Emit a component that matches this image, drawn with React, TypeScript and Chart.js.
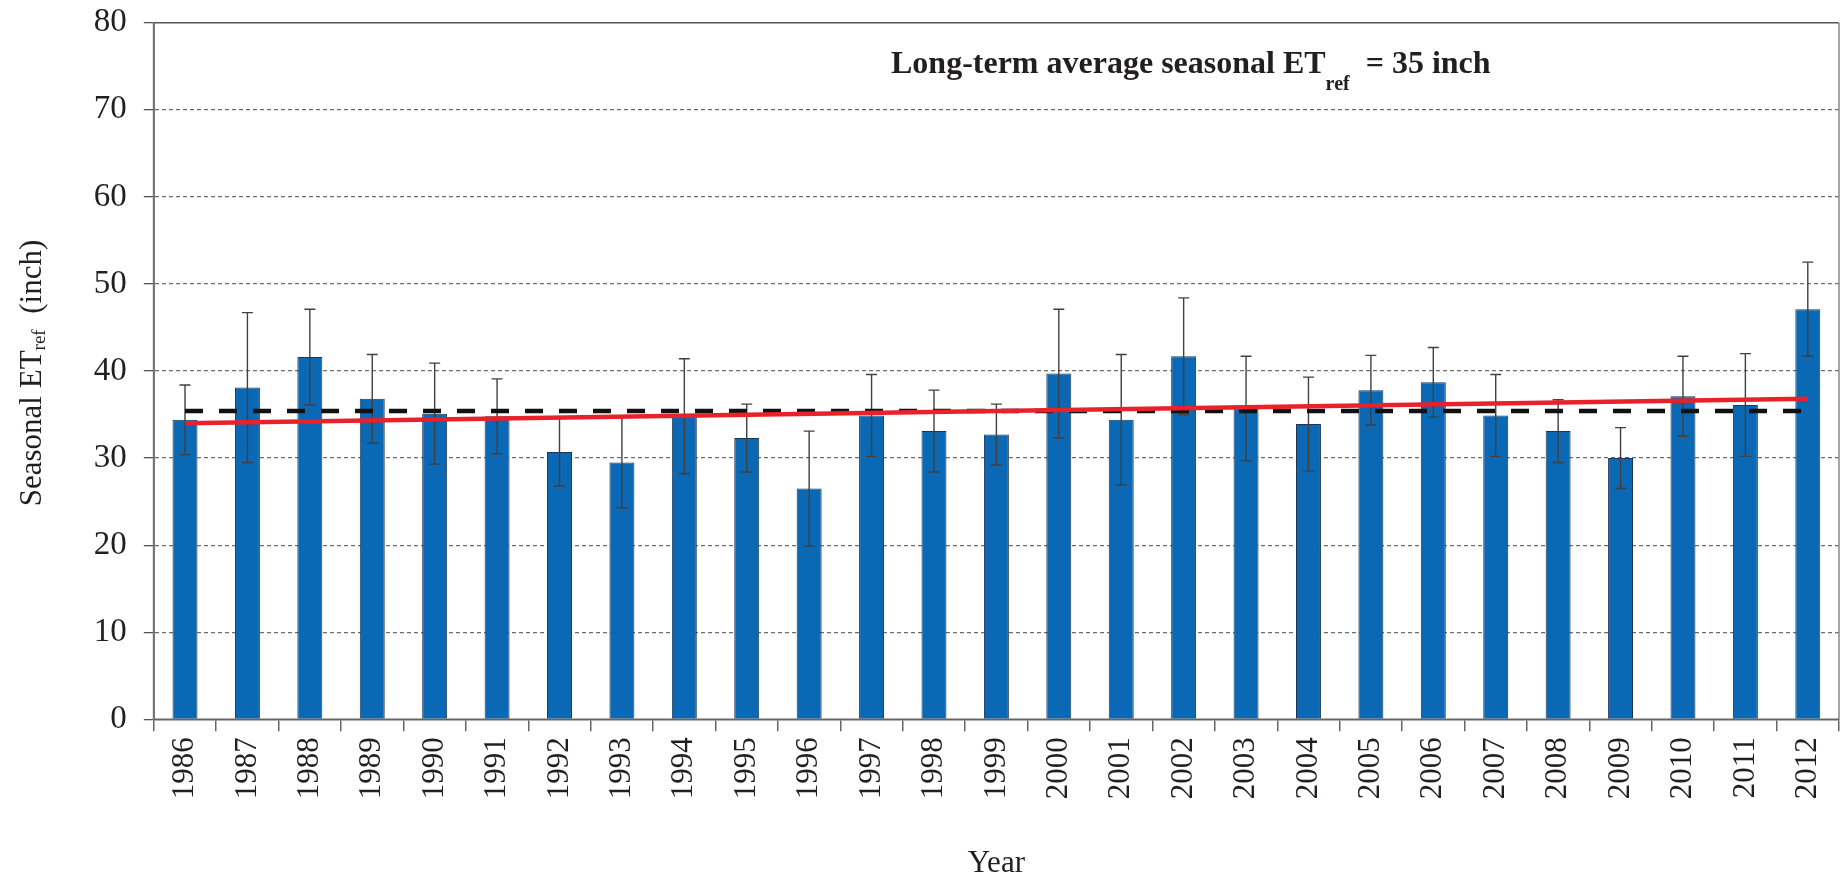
import React, { useEffect, useRef } from "react";
import { Chart, registerables } from "chart.js";

Chart.register(...registerables);

const years = [
  "1986", "1987", "1988", "1989", "1990", "1991", "1992", "1993", "1994",
  "1995", "1996", "1997", "1998", "1999", "2000", "2001", "2002", "2003",
  "2004", "2005", "2006", "2007", "2008", "2009", "2010", "2011", "2012",
];

const seasonalETref = [
  34.4, 38.1, 41.6, 36.8, 35.1, 34.8, 30.7, 29.5, 34.8,
  32.3, 26.5, 34.9, 33.1, 32.7, 39.7, 34.4, 41.7, 35.7,
  33.9, 37.8, 38.7, 34.9, 33.1, 30.0, 37.1, 36.1, 47.1,
];

const seasonalETrefError = [
  4.0, 8.6, 5.5, 5.1, 5.8, 4.3, 3.9, 5.2, 6.6,
  3.9, 6.6, 4.7, 4.7, 3.5, 7.4, 7.5, 6.7, 6.0,
  5.4, 4.0, 4.0, 4.7, 3.6, 3.5, 4.6, 5.9, 5.4,
];

const longTermAverage = [35.4, 35.4]; // first and last year
const trendEnds = [34.0, 36.8]; // trend line at first and last year

const yTicks = [0, 10, 20, 30, 40, 50, 60, 70, 80];

const SERIF = "'Liberation Serif', 'Times New Roman', serif";
const TEXT = "#231f20";

function endpointsSeries(ends: number[]) {
  return years.map((_, i) =>
    i === 0 ? ends[0] : i === years.length - 1 ? ends[1] : null
  );
}

const errorBarPlugin = {
  id: "errorBars",
  afterDatasetDraw(chart: any, args: any) {
    if (args.index !== 0) return;
    const meta = chart.getDatasetMeta(0);
    const y = chart.scales.y;
    const ctx = chart.ctx;
    ctx.save();
    ctx.strokeStyle = "#404040";
    ctx.lineWidth = 1.4;
    meta.data.forEach((bar: any, i: number) => {
      const x = bar.x;
      const top = y.getPixelForValue(seasonalETref[i] + seasonalETrefError[i]);
      const bot = y.getPixelForValue(seasonalETref[i] - seasonalETrefError[i]);
      ctx.beginPath();
      ctx.moveTo(x, top);
      ctx.lineTo(x, bot);
      ctx.moveTo(x - 5.5, top);
      ctx.lineTo(x + 5.5, top);
      ctx.moveTo(x - 5.5, bot);
      ctx.lineTo(x + 5.5, bot);
      ctx.stroke();
    });
    ctx.restore();
  },
};

type Part = { text: string; font: string; dy: number };

function drawParts(ctx: CanvasRenderingContext2D, parts: Part[], startX: number) {
  let x = startX;
  for (const p of parts) {
    ctx.font = p.font;
    ctx.fillText(p.text, x, p.dy);
    x += ctx.measureText(p.text).width;
  }
}

function partsWidth(ctx: CanvasRenderingContext2D, parts: Part[]) {
  let w = 0;
  for (const p of parts) {
    ctx.font = p.font;
    w += ctx.measureText(p.text).width;
  }
  return w;
}

const framePlugin = {
  id: "frameAndText",
  afterDraw(chart: any) {
    const { ctx, chartArea } = chart;
    const { left, right, top, bottom } = chartArea;
    ctx.save();
    ctx.setLineDash([]);
    // top frame
    ctx.strokeStyle = "#555";
    ctx.lineWidth = 1.5;
    ctx.beginPath();
    ctx.moveTo(left, top);
    ctx.lineTo(right, top);
    ctx.stroke();
    // right frame
    ctx.strokeStyle = "#888";
    ctx.beginPath();
    ctx.moveTo(right, top);
    ctx.lineTo(right, bottom);
    ctx.stroke();
    // left axis
    ctx.strokeStyle = "#777";
    ctx.lineWidth = 2;
    ctx.beginPath();
    ctx.moveTo(left, top);
    ctx.lineTo(left, bottom);
    ctx.stroke();
    // bottom axis
    ctx.strokeStyle = "#666";
    ctx.lineWidth = 1.5;
    ctx.beginPath();
    ctx.moveTo(left, bottom);
    ctx.lineTo(right, bottom);
    ctx.stroke();

    // annotation
    ctx.fillStyle = TEXT;
    ctx.textBaseline = "alphabetic";
    ctx.textAlign = "left";
    const bold = `bold 32px ${SERIF}`;
    drawParts(
      ctx,
      [
        { text: "Long-term average seasonal ET", font: bold, dy: 72.5 },
        { text: "ref", font: `bold 20px ${SERIF}`, dy: 90 },
        { text: "  = 35 inch", font: bold, dy: 72.5 },
      ],
      891
    );

    // y-axis title (rotated)
    const yParts: Part[] = [
      { text: "Seasonal ET", font: `31px ${SERIF}`, dy: 0 },
      { text: "ref", font: `19px ${SERIF}`, dy: 4 },
      { text: "  (inch)", font: `31px ${SERIF}`, dy: 0 },
    ];
    const w = partsWidth(ctx, yParts);
    ctx.translate(41, 373);
    ctx.rotate(-Math.PI / 2);
    drawParts(ctx, yParts, -w / 2);
    ctx.restore();
  },
};

export default function App() {
  const canvasRef = useRef<HTMLCanvasElement | null>(null);

  useEffect(() => {
    document.body.style.margin = "0";
    const canvas = canvasRef.current;
    if (!canvas) return;
    const chart = new Chart(canvas, {
      type: "bar",
      data: {
        labels: years,
        datasets: [
          {
            type: "bar",
            label: "Seasonal ETref",
            data: seasonalETref,
            backgroundColor: "#0a68b4",
            borderColor: "#1f3550",
            borderWidth: 1,
            categoryPercentage: 1,
            barPercentage: 0.4,
            order: 3,
          },
          {
            type: "line",
            label: "Long-term average",
            data: endpointsSeries(longTermAverage),
            borderColor: "#111",
            borderWidth: 4.5,
            borderDash: [18, 16],
            pointRadius: 0,
            spanGaps: true,
            fill: false,
            order: 2,
          },
          {
            type: "line",
            label: "Trend",
            data: endpointsSeries(trendEnds),
            borderColor: "#e8222b",
            borderWidth: 4.5,
            pointRadius: 0,
            spanGaps: true,
            fill: false,
            order: 1,
          },
        ] as any,
      },
      options: {
        responsive: false,
        animation: false,
        devicePixelRatio: 1,
        layout: { padding: { top: 22.7, right: 6, left: 0, bottom: 0 } },
        plugins: {
          legend: { display: false },
          tooltip: { enabled: false },
          title: { display: false },
        },
        scales: {
          x: {
            type: "category",
            offset: true,
            grid: {
              offset: true,
              drawOnChartArea: false,
              drawTicks: true,
              tickLength: 12,
              color: "#666",
              lineWidth: 1.5,
            },
            border: { display: true, color: "#666", width: 1.5 },
            ticks: {
              autoSkip: false,
              maxRotation: 90,
              minRotation: 90,
              padding: 6,
              color: TEXT,
              font: { family: SERIF, size: 31, lineHeight: 0.9 },
            },
            title: {
              display: true,
              text: "Year",
              color: TEXT,
              font: { family: SERIF, size: 31, lineHeight: 0.9 },
              padding: { top: 0, bottom: 0 },
            },
            afterFit(scale: any) {
              scale.height = 878 - 719.3;
            },
          },
          y: {
            min: 0,
            max: 80,
            afterBuildTicks(scale: any) {
              scale.ticks = yTicks.map((v) => ({ value: v }));
            },
            grid: {
              color: (c: any) =>
                c.tick && (c.tick.value === 0 || c.tick.value === 80)
                  ? "rgba(0,0,0,0)"
                  : "#6e6e6e",
              lineWidth: 1.3,
              tickColor: "#555",
              tickBorderDash: [],
              tickLength: 10,
              drawTicks: true,
            },
            border: { display: true, color: "#777", width: 2, dash: [4, 3] },
            ticks: {
              padding: 17,
              color: TEXT,
              font: { family: SERIF, size: 33, lineHeight: 0.3 },
            },
            afterFit(scale: any) {
              scale.width = 153.8;
            },
          },
        },
      } as any,
      plugins: [errorBarPlugin, framePlugin],
    });
    return () => chart.destroy();
  }, []);

  return (
    <div style={{ width: 1845, height: 878 }}>
      <canvas ref={canvasRef} width={1845} height={878} />
    </div>
  );
}
